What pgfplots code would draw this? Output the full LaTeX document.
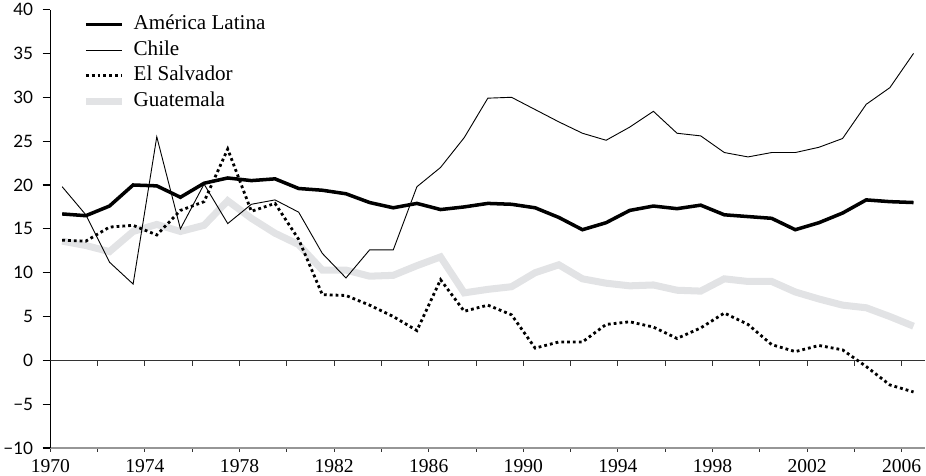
\documentclass[border=0pt]{standalone}
\usepackage{fontspec}
\setmainfont{Liberation Serif}
\newfontfamily\ysans{Lato}
\usepackage{pgfplots}
\pgfplotsset{compat=1.18}
\definecolor{guat}{RGB}{226,227,229}
\definecolor{botline}{RGB}{150,150,150}
\begin{document}
\begin{tikzpicture}
\begin{axis}[
  scale only axis, width=871pt, height=436.5pt,
  xmin=1970, xmax=2007, ymin=-10, ymax=40,
  axis x line*=bottom, axis y line*=left,
  x axis line style={draw=botline, line width=1.3pt, -},
  y axis line style={draw=black, line width=1.3pt, -},
  tick align=outside,
  major tick length=7.7pt, minor tick length=7.7pt,
  xtick={1970,1974,...,2006},
  minor xtick={1972,1976,...,2004},
  xtick style={draw=black!80, line width=1pt, /pgfplots/major tick length=3.5pt, /pgfplots/minor tick length=3.5pt},
  ytick style={draw=black, line width=1.2pt},
  xticklabels={1970,1974,1978,1982,1986,1990,1994,1998,2002,2006},
  ytick={-10,-5,...,40},
  yticklabels={−10,−5,0,5,10,15,20,25,30,35,40},
  x tick label style={font=\fontsize{19.5}{19.5}\selectfont},
  y tick label style={font=\ysans\fontsize{17}{17}\selectfont, xshift=-6pt},
  legend style={draw=none, fill=none, at={(0,1)}, anchor=north west,
    xshift=31.7pt, yshift=-4.8pt, inner sep=0pt, row sep=5.5pt,
    font=\fontsize{21}{21}\selectfont,
    nodes={inner sep=0pt, text height=15pt, text depth=5pt},
    /tikz/every odd column/.append style={column sep=8pt}},
  legend cell align=left,
  legend image code/.code={\draw[#1] (0pt,0pt) -- (36pt,0pt);},
]
% zero line with ticks
\draw[black!80, line width=1.2pt] (axis cs:1970,0) -- (axis cs:2007,0);
\pgfplotsinvokeforeach{1972,1974,...,2006}{\draw[black!80, line width=1pt] (axis cs:#1,0) -- ++(0pt,-5.7pt);}

% Guatemala (drawn first, listed last in legend)
\addplot[guat, line width=7pt, forget plot] coordinates {
(1970.5,13.6)(1971.5,13.1)(1972.5,12.4)(1973.5,14.7)(1974.5,15.5)(1975.5,14.7)(1976.5,15.4)(1977.5,18.2)(1978.5,16.2)(1979.5,14.5)
(1980.5,13.2)(1981.5,10.3)(1982.5,10.3)(1983.5,9.6)(1984.5,9.7)(1985.5,10.8)(1986.5,11.8)(1987.5,7.7)(1988.5,8.1)(1989.5,8.4)
(1990.5,10.0)(1991.5,10.9)(1992.5,9.3)(1993.5,8.8)(1994.5,8.5)(1995.5,8.6)(1996.5,8.0)(1997.5,7.9)(1998.5,9.3)(1999.5,9.0)
(2000.5,9.0)(2001.5,7.8)(2002.5,7.0)(2003.5,6.3)(2004.5,6.0)(2005.5,5.0)(2006.5,3.9)};

\addplot[black, line width=3.5pt] coordinates {
(1970.5,16.7)(1971.5,16.5)(1972.5,17.6)(1973.5,20.0)(1974.5,19.9)(1975.5,18.6)(1976.5,20.2)(1977.5,20.8)(1978.5,20.5)(1979.5,20.7)
(1980.5,19.6)(1981.5,19.4)(1982.5,19.0)(1983.5,18.0)(1984.5,17.4)(1985.5,17.9)(1986.5,17.2)(1987.5,17.5)(1988.5,17.9)(1989.5,17.8)
(1990.5,17.4)(1991.5,16.3)(1992.5,14.9)(1993.5,15.7)(1994.5,17.1)(1995.5,17.6)(1996.5,17.3)(1997.5,17.7)(1998.5,16.6)(1999.5,16.4)
(2000.5,16.2)(2001.5,14.9)(2002.5,15.7)(2003.5,16.8)(2004.5,18.3)(2005.5,18.1)(2006.5,18.0)};
\addlegendentry{América Latina}

\addplot[black, line width=0.9pt] coordinates {
(1970.5,19.8)(1971.5,16.6)(1972.5,11.2)(1973.5,8.7)(1974.5,25.5)(1975.5,15.0)(1976.5,20.1)(1977.5,15.6)(1978.5,17.8)(1979.5,18.3)
(1980.5,16.9)(1981.5,12.2)(1982.5,9.4)(1983.5,12.6)(1984.5,12.6)(1985.5,19.8)(1986.5,22.0)(1987.5,25.4)(1988.5,29.9)(1989.5,30.0)
(1990.5,28.6)(1991.5,27.2)(1992.5,25.9)(1993.5,25.1)(1994.5,26.6)(1995.5,28.4)(1996.5,25.9)(1997.5,25.6)(1998.5,23.7)(1999.5,23.2)
(2000.5,23.7)(2001.5,23.7)(2002.5,24.3)(2003.5,25.3)(2004.5,29.2)(2005.5,31.1)(2006.5,35.0)};
\addlegendentry{Chile}

\addplot[black, line width=2.8pt, dash pattern=on 2.8pt off 3pt] coordinates {
(1970.5,13.7)(1971.5,13.6)(1972.5,15.2)(1973.5,15.4)(1974.5,14.3)(1975.5,17.1)(1976.5,18.1)(1977.5,24.1)(1978.5,17.0)(1979.5,17.9)
(1980.5,13.8)(1981.5,7.5)(1982.5,7.4)(1983.5,6.3)(1984.5,5.0)(1985.5,3.4)(1986.5,9.2)(1987.5,5.6)(1988.5,6.3)(1989.5,5.2)
(1990.5,1.4)(1991.5,2.1)(1992.5,2.1)(1993.5,4.1)(1994.5,4.4)(1995.5,3.8)(1996.5,2.5)(1997.5,3.7)(1998.5,5.4)(1999.5,4.1)
(2000.5,1.8)(2001.5,1.0)(2002.5,1.7)(2003.5,1.2)(2004.5,-0.7)(2005.5,-2.8)(2006.5,-3.6)};
\addlegendentry{El Salvador}

\addlegendimage{guat, line width=7pt}
\addlegendentry{Guatemala}
\end{axis}
\end{tikzpicture}
\end{document}
